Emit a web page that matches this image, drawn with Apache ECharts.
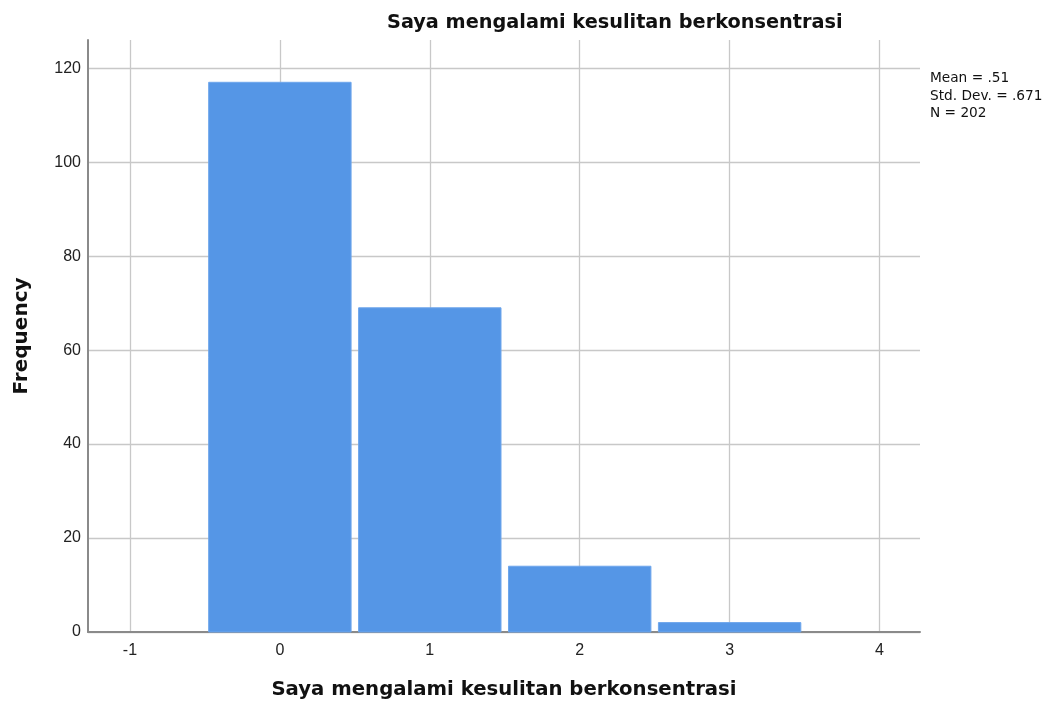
<!DOCTYPE html>
<html>
<head>
<meta charset="utf-8">
<script src="https://cdn.jsdelivr.net/npm/echarts@6/dist/echarts.min.js"></script>
<style>html,body{margin:0;padding:0;background:#fff;}#c{width:1050px;height:711px;}</style>
</head>
<body>
<div id="c"></div>
<script>
const titleText = 'Saya mengalami kesulitan berkonsentrasi';
const binCenters = [0, 1, 2, 3];
const frequencies = [117, 69, 14, 2];
const xTickValues = [-1, 0, 1, 2, 3, 4];
const statsLines = ['Mean = .51', 'Std. Dev. = .671', 'N = 202'];

const chart = echarts.init(document.getElementById('c'), null, {renderer: 'canvas'});
const font = "'DejaVu Sans', 'Liberation Sans', Arial, sans-serif";
const tickFont = "'Liberation Sans', Arial, sans-serif";
const gridColor = '#c8c8c8';
const barData = binCenters.map((c, i) => [c, frequencies[i]]);

chart.setOption({
  animation: false,
  backgroundColor: '#fff',
  title: {
    text: titleText,
    left: 382, top: 8,
    textStyle: {fontFamily: font, fontSize: 19.3, fontWeight: 'bold', color: '#111'}
  },
  graphic: [{
    type: 'text', left: 930, top: 70,
    style: {text: statsLines.join('\n'), font: '13.7px ' + font, fill: '#111', lineHeight: 17.5}
  }],
  grid: {left: 88, right: 130, top: 40, bottom: 79, containLabel: false},
  xAxis: {
    type: 'value', min: -1.28, max: 4.27,
    name: titleText, nameLocation: 'middle', nameGap: 48,
    nameTextStyle: {fontFamily: font, fontSize: 19.7, fontWeight: 'bold', color: '#111'},
    axisLine: {show: true, onZero: false, lineStyle: {color: '#8a8a8a', width: 2}},
    axisTick: {show: false, customValues: xTickValues},
    axisLabel: {customValues: xTickValues, fontFamily: tickFont, fontSize: 16, color: '#222', margin: 11},
    splitLine: {show: true, lineStyle: {color: gridColor, width: 1.3}}
  },
  yAxis: {
    type: 'value', min: 0, max: 126, interval: 20,
    name: 'Frequency', nameLocation: 'middle', nameGap: 56, nameRotate: 90,
    nameTextStyle: {fontFamily: font, fontSize: 20, fontWeight: 'bold', color: '#111'},
    axisLine: {show: true, onZero: false, lineStyle: {color: '#8a8a8a', width: 2}},
    axisTick: {show: false},
    axisLabel: {fontFamily: tickFont, fontSize: 16, color: '#222', margin: 7, showMaxLabel: false},
    splitLine: {show: true, showMaxLine: false, lineStyle: {color: gridColor, width: 1.3}}
  },
  series: [{
    type: 'custom',
    data: barData,
    renderItem: function (params, api) {
      const c = api.value(0), v = api.value(1);
      const p0 = api.coord([c - 0.475, v]);
      const p1 = api.coord([c + 0.475, 0]);
      return {
        type: 'rect',
        shape: {x: p0[0], y: p0[1], width: p1[0] - p0[0], height: p1[1] - p0[1]},
        style: {fill: '#5596e6', stroke: '#6ea6ec', lineWidth: 1}
      };
    }
  }]
});
</script>
</body>
</html>
